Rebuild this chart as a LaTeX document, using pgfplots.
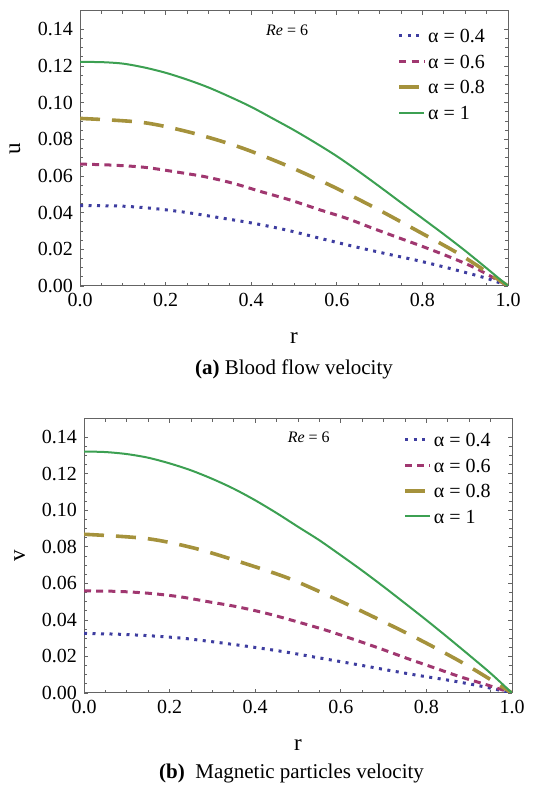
\documentclass[border=0pt]{standalone}
\usepackage{fontspec}
\setmainfont{Liberation Serif}
\usepackage{pgfplots}
\pgfplotsset{compat=1.18}
\definecolor{cblue}{RGB}{62,61,160}
\definecolor{cmag}{RGB}{160,55,112}
\definecolor{coli}{RGB}{165,146,60}
\definecolor{cgreen}{RGB}{60,160,82}
\definecolor{frame}{RGB}{100,100,100}
\pgfplotsset{
  myaxis/.style={
    scale only axis,
    clip mode=individual,
    width=214pt,
    xmin=0, xmax=1, ymin=0, ymax=0.15,
    xtick={0,0.2,0.4,0.6,0.8,1.0},
    ytick={0,0.02,0.04,0.06,0.08,0.10,0.12,0.14},
    minor x tick num=3,
    minor y tick num=3,
    tick align=inside,
    major tick length=2pt,
    minor tick length=1.3pt,
    axis line style={frame, line width=0.5pt},
    every tick/.style={frame, line width=0.4pt},
    /pgf/number format/assume math mode=true,
    tick label style={font=\fontsize{10}{12}\selectfont},
    xticklabel style={/pgf/number format/.cd, fixed, fixed zerofill, precision=1},
    yticklabel style={/pgf/number format/.cd, fixed, fixed zerofill, precision=2},
    scaled y ticks=false,
    label style={font=\fontsize{11.5}{13}\selectfont},
    legend cell align=left,
    legend style={draw=none, fill=none, inner sep=0pt, row sep=3.85pt,
      font=\fontsize{10}{12}\selectfont,
      nodes={inner sep=1pt, text height=7pt, text depth=0pt}},
    legend image code/.code={\draw[##1] (0pt,0pt) -- (12.5pt,0pt);},
  },
  sblue/.style={cblue, line width=1.5pt, dash pattern=on 1.5pt off 2.75pt},
  smag/.style={cmag, line width=1.5pt, dash pattern=on 3.5pt off 2.6pt},
  soli/.style={coli, line width=1.8pt, dash pattern=on 10pt off 6pt},
  sgreen/.style={cgreen, line width=1pt},
}
\begin{document}
\begin{tikzpicture}
\useasboundingbox (0pt,0pt) rectangle (271pt,392.5pt);
% panel (a)
\begin{axis}[myaxis,
  at={(40pt,249.5pt)}, anchor=south west,
  height=137.5pt,
  xlabel={r}, ylabel={u},
  xlabel style={at={(axis description cs:0.5,-0.189)}, anchor=center},
  ylabel style={at={(axis description cs:-0.152,0.5)}, anchor=center},
  legend style={at={(axis description cs:0.741,0.945)}, anchor=north west},
]
\addplot[sblue, smooth] coordinates {(0,0.0438) (0.093,0.0436) (0.171,0.0423) (0.249,0.0401) (0.327,0.0372) (0.405,0.0342) (0.483,0.0305) (0.561,0.0260) (0.639,0.0216) (0.717,0.0175) (0.794,0.0136) (0.872,0.0091) (0.95,0.0042) (1,0)};
\addlegendentry{α = 0.4}
\addplot[smag, smooth] coordinates {(0,0.0665) (0.078,0.0659) (0.152,0.0647) (0.222,0.0623) (0.292,0.0596) (0.358,0.0560) (0.424,0.0514) (0.491,0.0469) (0.557,0.0418) (0.623,0.0369) (0.685,0.0314) (0.748,0.0260) (0.802,0.0214) (0.864,0.0158) (0.927,0.0094) (1,0)};
\addlegendentry{α = 0.6}
\addplot[soli, smooth] coordinates {(0,0.0914) (0.146,0.0892) (0.259,0.0837) (0.371,0.0759) (0.479,0.0661) (0.584,0.0550) (0.687,0.0429) (0.792,0.0296) (0.889,0.0170) (1,0)};
\addlegendentry{α = 0.8}
\addplot[sgreen, smooth] coordinates {(0,0.1222) (0.05,0.1221) (0.1,0.1213) (0.15,0.1192) (0.2,0.1163) (0.25,0.1126) (0.3,0.1083) (0.35,0.1032) (0.4,0.0977) (0.45,0.0914) (0.5,0.0850) (0.55,0.0781) (0.6,0.0708) (0.65,0.0627) (0.7,0.0542) (0.75,0.0455) (0.8,0.0369) (0.85,0.0282) (0.9,0.0192) (0.95,0.0097) (1,0)};
\addlegendentry{α = 1}
\node[font=\fontsize{8}{10}\selectfont] at (axis cs:0.484,0.1395) {\textit{Re} = 6};
\node[font=\fontsize{10.5}{12}\selectfont, anchor=center] at (axis description cs:0.5,-0.305) {\textbf{(a)} Blood flow velocity};
\end{axis}
% panel (b)
\begin{axis}[myaxis,
  at={(42pt,46pt)}, anchor=south west,
  height=137pt,
  xlabel={r}, ylabel={v},
  xlabel style={at={(axis description cs:0.5,-0.19)}, anchor=center},
  ylabel style={at={(axis description cs:-0.15,0.5)}, anchor=center},
  legend style={at={(axis description cs:0.745,0.96)}, anchor=north west},
]
\addplot[sblue, smooth] coordinates {(0,0.0326) (0.078,0.0322) (0.156,0.0313) (0.234,0.0299) (0.312,0.0277) (0.389,0.0253) (0.467,0.0226) (0.545,0.0194) (0.623,0.0162) (0.701,0.0129) (0.779,0.0097) (0.857,0.0068) (0.935,0.0034) (1,0)};
\addlegendentry{α = 0.4}
\addplot[smag, smooth] coordinates {(0,0.0559) (0.082,0.0556) (0.156,0.0545) (0.226,0.0526) (0.292,0.0499) (0.358,0.0472) (0.428,0.0435) (0.498,0.0390) (0.565,0.0344) (0.631,0.0293) (0.697,0.0239) (0.759,0.0186) (0.822,0.0135) (0.88,0.0088) (0.942,0.0044) (1,0)};
\addlegendentry{α = 0.6}
\addplot[soli, smooth] coordinates {(0,0.0869) (0.148,0.0845) (0.261,0.0791) (0.372,0.0712) (0.479,0.0627) (0.586,0.0517) (0.692,0.0399) (0.794,0.0280) (0.896,0.0150) (1,0)};
\addlegendentry{α = 0.8}
\addplot[sgreen, smooth] coordinates {(0,0.1322) (0.05,0.1319) (0.1,0.1308) (0.15,0.1288) (0.2,0.1257) (0.25,0.1219) (0.3,0.1172) (0.35,0.1118) (0.4,0.1055) (0.45,0.0985) (0.5,0.0910) (0.55,0.0836) (0.6,0.0754) (0.65,0.0670) (0.7,0.0582) (0.75,0.0491) (0.8,0.0399) (0.85,0.0304) (0.9,0.0207) (0.95,0.0108) (1,0)};
\addlegendentry{α = 1}
\node[font=\fontsize{8}{10}\selectfont] at (axis cs:0.525,0.14) {\textit{Re} = 6};
\node[font=\fontsize{10.5}{12}\selectfont, anchor=center] at (axis description cs:0.485,-0.292) {\textbf{(b)}\ \ Magnetic particles velocity};
\end{axis}
\end{tikzpicture}
\end{document}
